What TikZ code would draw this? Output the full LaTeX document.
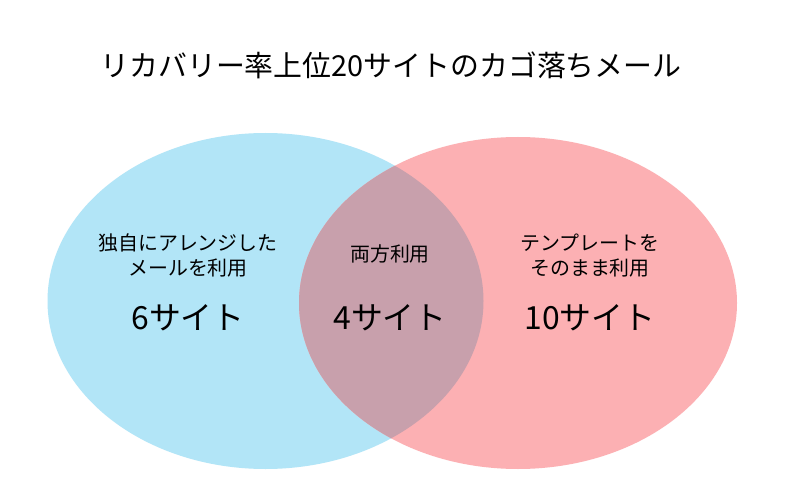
\documentclass[tikz,border=0pt]{standalone}
\usepackage{fontspec}
\setmainfont{Noto Sans CJK JP}
\definecolor{lb}{HTML}{B2E5F7}
\definecolor{lp}{HTML}{FCB0B3}
\definecolor{ov}{HTML}{C8A0AC}
\begin{document}
\begin{tikzpicture}[x=1bp,y=-1bp,
  lbl/.style={font=\fontsize{20}{24}\selectfont,align=center},
  big/.style={font=\fontsize{32}{36}\selectfont}]
\useasboundingbox (0,0) rectangle (786,499);
\fill[white] (0,0) rectangle (786,499);
\fill[lb] (265.5,301) ellipse [x radius=218, y radius=168];
\fill[lp] (518,303) ellipse [x radius=219, y radius=166];
\begin{scope}
\clip (265.5,301) ellipse [x radius=218, y radius=168];
\fill[ov] (518,303) ellipse [x radius=219, y radius=166];
\end{scope}
\node[font=\fontsize{29}{34}\selectfont] (title) at (391,65) {リカバリー率上位20サイトのカゴ落ちメール};
\node[lbl] (l1) at (188,243) {独自にアレンジした};
\node[lbl] (l2) at (188,268) {メールを利用};
\node[big] (l3) at (188,318) {6サイト};
\node[lbl] (m1) at (390,254) {両方利用};
\node[big] (m3) at (390,318) {4サイト};
\node[lbl] (r1) at (590,243) {テンプレートを};
\node[lbl] (r2) at (590,268) {そのまま利用};
\node[big] (r3) at (590,318) {10サイト};
\end{tikzpicture}
\end{document}
